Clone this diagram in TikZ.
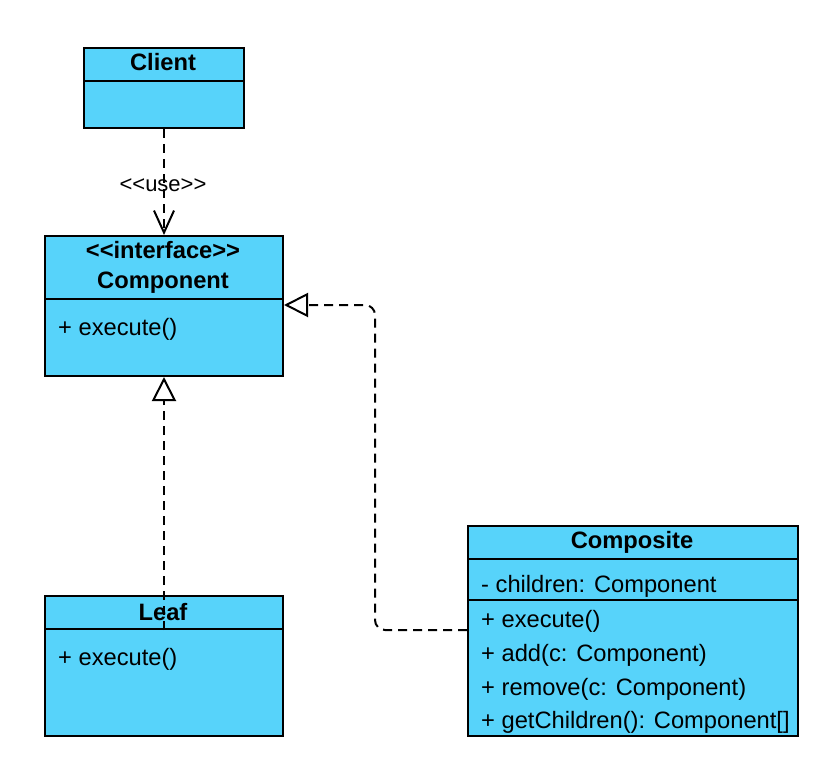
\documentclass[tikz,border=0pt]{standalone}
\usepackage{fontspec}
\setmainfont{Liberation Sans}
\usetikzlibrary{arrows.meta}
\definecolor{cls}{RGB}{87,211,250}
\begin{document}
\begin{tikzpicture}[x=1pt,y=-1pt,
  box/.style={draw=black, fill=cls, line width=2pt, inner sep=0pt, anchor=north west},
  ttl/.style={font=\fontsize{23.7}{28}\selectfont\bfseries, anchor=base, inner sep=0pt},
  attr/.style={font=\fontsize{23.7}{28}\selectfont, anchor=base west, inner sep=0pt},
  lbl/.style={font=\fontsize{22}{26}\selectfont, anchor=base, inner sep=0pt},
  divider/.style={line width=2pt},
  dep/.style={line width=2pt, dash pattern=on 9pt off 6pt},
  usetip/.style={-{Straight Barb[length=22pt,width=20pt,line width=2pt]}},
  realize/.style={-{Triangle[open,length=24pt,width=24pt,line width=2pt]}}
]
\useasboundingbox (0,0) rectangle (834,770);

% Client
\node[box, minimum width=160pt, minimum height=80pt] (client) at (83,47) {};
\draw[divider] (client.west |- 0,81) -- (client.east |- 0,81);
\node[ttl] (clientT) at (163,71) {Client};

% Component
\node[box, minimum width=238pt, minimum height=140pt] (component) at (44,235) {};
\draw[divider] (component.west |- 0,299) -- (component.east |- 0,299);
\node[ttl] (compS) at (163,258.5) {<\kern0pt<interface>\kern0pt>};
\node[ttl] (compT) at (163,288.5) {Component};
\node[attr] (compA) at (58,335.5) {+ execute()};

% Leaf
\node[box, minimum width=238pt, minimum height=140pt] (leaf) at (44,595) {};
\draw[divider] (leaf.west |- 0,629) -- (leaf.east |- 0,629);
\node[ttl] (leafT) at (163,620) {Leaf};
\node[attr] (leafA) at (58,665) {+ execute()};

% Composite
\node[box, minimum width=330pt, minimum height=210pt] (composite) at (467,525) {};
\draw[divider] (composite.west |- 0,559) -- (composite.east |- 0,559);
\draw[divider] (composite.west |- 0,600) -- (composite.east |- 0,600);
\node[ttl] (compoT) at (632,548.5) {Composite};
\node[attr] (compoF) at (481,592) {- children: Component};
\node[attr] (compoM1) at (481,627) {+ execute()};
\node[attr] (compoM2) at (481,661) {+ add(c: Component)};
\node[attr] (compoM3) at (481,695) {+ remove(c: Component)};
\node[attr] (compoM4) at (481,728.5) {+ getChildren(): Component[]};

% Connectors
\draw[dep, usetip] (client.south) -- (component.north);
\node[lbl] (useL) at (163,191.5) {<\kern0pt<use>\kern0pt>};

\coordinate (leafin) at (164,630);
\draw[dep, realize] (leafin) -- (leafin |- component.south);

\coordinate (compoin) at (467,630);
\draw[dep, realize, rounded corners=10pt] (compoin) -- (375,630) -- (375,305) -- (component.east |- 0,305);
\end{tikzpicture}
\end{document}
